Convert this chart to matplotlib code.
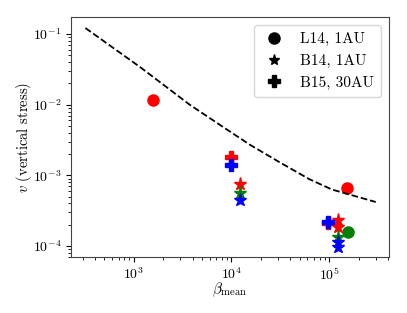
import matplotlib
matplotlib.use("Agg")
import matplotlib.pyplot as plt
from matplotlib.lines import Line2D

plt.rcParams['font.family'] = 'serif'
plt.rcParams['font.serif'] = ['cmr10']
plt.rcParams['mathtext.fontset'] = 'cm'
plt.rcParams['axes.formatter.use_mathtext'] = True
plt.rcParams['axes.unicode_minus'] = False

# dashed reference curve
line_beta = [320, 1160, 3740, 7590, 15400, 31200, 63000, 107000, 300000]
line_v = [0.1216, 0.0341, 0.0100, 0.0052, 0.00272, 0.00153, 0.00088, 0.00063, 0.00042]

# L14, 1AU (circles)
l14_beta = [1585, 154000, 155000]
l14_v = [0.0118, 6.7e-4, 1.56e-4]
l14_col = ['red', 'red', 'green']

# B14, 1AU (stars)
b14_beta = [12200, 12200, 12200, 123000, 123000, 123000, 123000, 123000]
b14_v = [7.6e-4, 5.7e-4, 4.5e-4, 2.33e-4, 1.84e-4, 1.35e-4, 1.15e-4, 9.6e-5]
b14_col = ['red', 'green', 'blue', 'red', 'red', 'green', 'blue', 'blue']

# B15, 30AU (crosses)
b15_beta = [9800, 9800, 97000, 97000]
b15_v = [1.8e-3, 1.4e-3, 2.1e-4, 2.2e-4]
b15_col = ['red', 'blue', 'red', 'blue']

legend_labels = ['L14, 1AU', 'B14, 1AU', 'B15, 30AU']

fig = plt.figure(figsize=(4.07, 3.13), dpi=100)
ax = fig.add_axes([0.1744, 0.1789, 0.7814, 0.7668])

for b, v, c in zip(l14_beta, l14_v, l14_col):
    ax.plot(b, v, 'o', color=c, ms=8)
for b, v, c in zip(b14_beta, b14_v, b14_col):
    ax.plot(b, v, '*', color=c, ms=9.5)
for b, v, c in zip(b15_beta, b15_v, b15_col):
    ax.plot(b, v, 'P', color=c, ms=8.5)

ax.plot(line_beta, line_v, '--', color='black', lw=1.3)

ax.set_xscale('log')
ax.set_yscale('log')
ax.set_xlim(228, 4.1e5)
ax.set_ylim(7.0e-5, 0.174)

ax.set_xlabel(r'$\beta_{\rm mean}$', fontsize=11, va='top')
ax.set_ylabel(r'$v$ (vertical stress)', fontsize=10.5, va='center')
ax.xaxis.set_label_coords(0.5, -0.1)
ax.yaxis.set_label_coords(-0.149, 0.5)
ax.tick_params(labelsize=10)

for s in ax.spines.values():
    s.set_color('#444444')

handles = [Line2D([], [], marker='o', ls='', color='black', ms=8),
           Line2D([], [], marker='*', ls='', color='black', ms=8),
           Line2D([], [], marker='P', ls='', color='black', ms=8)]
ax.legend(handles, legend_labels, loc='upper right', fontsize=11,
          handletextpad=0.9, handlelength=1.6, borderpad=0.5)

fig.savefig('out.png', dpi=100)
